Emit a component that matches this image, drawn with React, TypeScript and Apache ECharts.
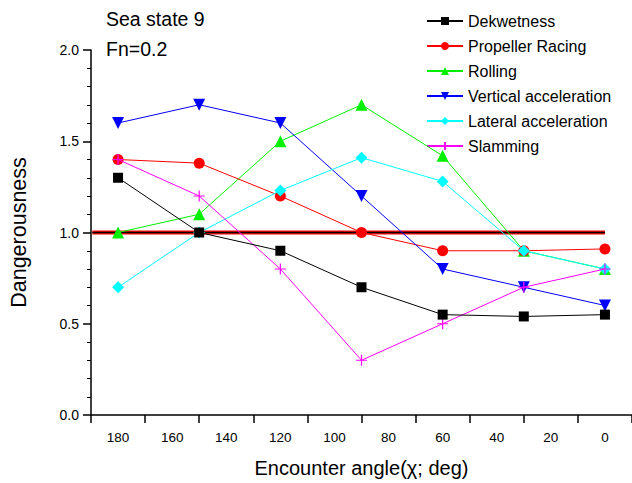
import React, { useEffect, useRef } from "react";
import * as echarts from "echarts";

const angles = [180, 150, 120, 90, 60, 30, 0];
const dekwetness = [1.3, 1.0, 0.9, 0.7, 0.55, 0.54, 0.55];
const propellerRacing = [1.4, 1.38, 1.2, 1.0, 0.9, 0.9, 0.91];
const rolling = [1.0, 1.1, 1.5, 1.7, 1.42, 0.9, 0.8];
const verticalAcc = [1.6, 1.7, 1.6, 1.2, 0.8, 0.7, 0.6];
const lateralAcc = [0.7, 1.0, 1.23, 1.41, 1.28, 0.9, 0.8];
const slamming = [1.4, 1.2, 0.8, 0.3, 0.5, 0.7, 0.8];
const thresholdX = [189.5, 0];
const thresholdY = [1.0, 1.0];
const xTicks = [180, 160, 140, 120, 100, 80, 60, 40, 20, 0];

const FONT = "'Liberation Sans', Arial, sans-serif";

export default function App() {
  const ref = useRef<HTMLDivElement>(null);
  useEffect(() => {
    if (!ref.current) return;
    const chart = echarts.init(ref.current, undefined, { renderer: "svg" });
    const mk = (name: string, ys: number[], color: string, symbol: string, size: number, extra: any = {}) => ({
      name,
      type: "line",
      data: angles.map((a, i) => [a, ys[i]]),
      symbol,
      symbolSize: size,
      lineStyle: { color, width: 1 },
      itemStyle: { color },
      emphasis: { disabled: true },
      ...extra,
    });
    const thr = (color: string, width: number, z: number) => ({
      type: "line",
      data: thresholdX.map((x, i) => [x, thresholdY[i]]),
      symbol: "none",
      lineStyle: { color, width },
      z,
      silent: true,
      emphasis: { disabled: true },
    });
    chart.setOption({
      animation: false,
      textStyle: { fontFamily: FONT },
      grid: { left: 90, right: -2, top: 50, bottom: 62 },
      title: [
        { text: "Sea state 9", left: 101, top: 4, textStyle: { fontSize: 19.5, fontWeight: "normal", color: "#000", fontFamily: FONT } },
        { text: "Fn=0.2", left: 101, top: 34, textStyle: { fontSize: 19.5, fontWeight: "normal", color: "#000", fontFamily: FONT } },
      ],
      legend: {
        orient: "vertical",
        left: 421,
        top: 8,
        itemWidth: 36,
        itemHeight: 10,
        itemGap: 9,
        textStyle: { fontSize: 16, color: "#000", fontFamily: FONT },
        data: ["Dekwetness", "Propeller Racing", "Rolling", "Vertical acceleration", "Lateral acceleration", "Slamming"],
      },
      xAxis: {
        type: "value",
        min: -10,
        max: 190,
        inverse: true,
        interval: 20,
        name: "Encounter angle(\u03c7; deg)",
        nameLocation: "middle",
        nameGap: 43,
        nameTextStyle: { fontSize: 20, color: "#000", fontFamily: FONT },
        axisLine: { onZero: false, lineStyle: { color: "#000", width: 1.5 } },
        axisTick: { length: 8, lineStyle: { color: "#000", width: 1.5 } },
        axisLabel: {
          fontSize: 13.5,
          color: "#000",
          margin: 15,
          customValues: xTicks,
        },
        splitLine: { show: false },
      },
      yAxis: {
        type: "value",
        min: 0,
        max: 2,
        interval: 0.5,
        name: "Dangerousness",
        nameLocation: "middle",
        nameGap: 61,
        nameTextStyle: { fontSize: 21.5, color: "#000", fontFamily: FONT },
        axisLine: { show: true, onZero: false, lineStyle: { color: "#000", width: 1.5 } },
        axisTick: { show: true, length: 8, lineStyle: { color: "#000", width: 1.5 } },
        minorTick: { show: true, splitNumber: 5, length: 4, lineStyle: { color: "#000", width: 1 } },
        axisLabel: { fontSize: 14, color: "#000", margin: 12, formatter: (v: number) => v.toFixed(1) },
        splitLine: { show: false },
      },
      series: [
        thr("#ff0000", 4, 1),
        thr("#000000", 1.5, 2),
        mk("Dekwetness", dekwetness, "#000000", "rect", 10, { z: 10 }),
        mk("Propeller Racing", propellerRacing, "#ff0000", "circle", 11, { z: 5 }),
        mk("Rolling", rolling, "#00f000", "triangle", 12, { z: 4 }),
        mk("Vertical acceleration", verticalAcc, "#0000ff", "triangle", 12, { symbolRotate: 180, z: 6 }),
        mk("Lateral acceleration", lateralAcc, "#00ffff", "diamond", 12, { z: 7 }),
        mk("Slamming", slamming, "#ff00ff", "path://M5,0L5,10M0,5L10,5", 11, {
          z: 8,
          itemStyle: { color: "#ff00ff", borderColor: "#ff00ff", borderWidth: 1.2 },
        }),
      ],
    });
    return () => chart.dispose();
  }, []);
  return <div ref={ref} style={{ width: 632, height: 483, position: "absolute", left: 0, top: 0, background: "#fff" }} />;
}
